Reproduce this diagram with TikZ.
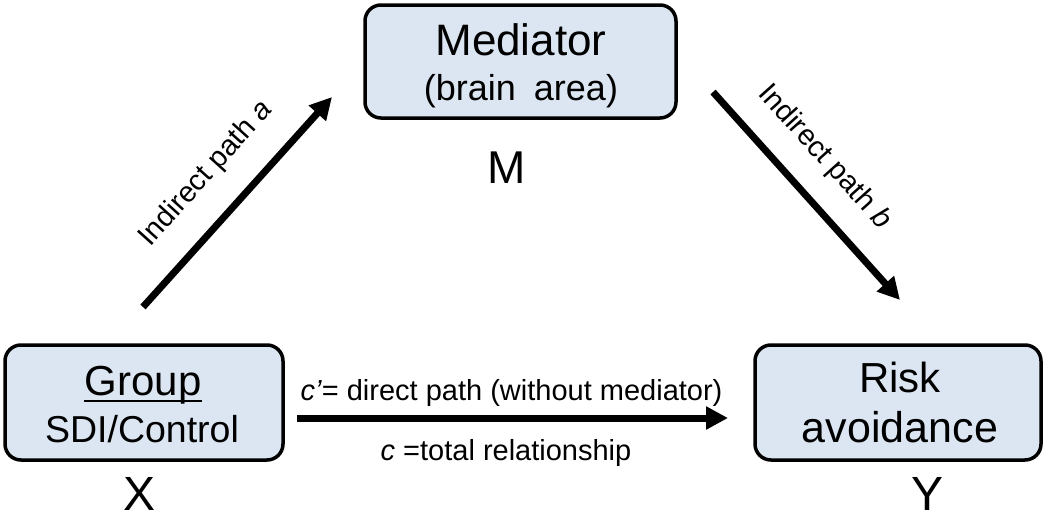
\documentclass[tikz,border=0pt]{standalone}
\usepackage{fontspec}
\setmainfont{Liberation Sans}
\usetikzlibrary{arrows.meta}
\definecolor{boxfill}{HTML}{DCE6F2}
\newcommand\myfs[1]{\fontsize{#1}{#1}\selectfont}
\tikzset{
  box/.style={draw=black, line width=3.5pt, fill=boxfill, rounded corners=16pt, inner sep=0pt},
  txt/.style={inner sep=0pt, anchor=base},
  arr/.style={line width=7pt, -{Triangle[length=22pt,width=22pt]}},
  plabel/.style={inner sep=0pt, font=\myfs{29}},
}
\begin{document}
\begin{tikzpicture}[x=1pt,y=-1pt]
\useasboundingbox (0,0) rectangle (1050,514);
% boxes
\node[box, minimum width=278pt, minimum height=115pt] (g) at (144,402.5) {};
\node[box, minimum width=311pt, minimum height=113pt] (m) at (520.5,61.5) {};
\node[box, minimum width=286pt, minimum height=115pt] (y) at (898,402.5) {};
% box texts
\node[txt, font=\myfs{42}] (gt1) at (143,395) {Group};
\draw[line width=2.5pt] ([yshift=-6pt]gt1.base west) -- ([yshift=-6pt]gt1.base east);
\node[txt, font=\myfs{37.5}] (gt2) at (142,442) {SDI/Control};
\node[txt, font=\myfs{44}] (mt1) at (521,55) {Mediator};
\node[txt, font=\myfs{36}] (mt2) at (521,100) {(brain\hspace{18pt}area)};
\node[txt, font=\myfs{42}] (yt1) at (900,392) {Risk};
\node[txt, font=\myfs{43}] (yt2) at (900,442) {avoidance};
% variable letters
\node[txt, font=\myfs{48}] (xl) at (140,510.5) {X};
\node[txt, font=\myfs{46}] (ml) at (507,183) {M};
\node[txt, font=\myfs{48}] (yl) at (927,510.5) {Y};
% arrow ends
\coordinate (a1) at (143,307); \coordinate (a2) at (332,97);
\coordinate (b1) at (713,92);  \coordinate (b2) at (900,300);
\coordinate (c1) at (297,418); \coordinate (c2) at (728,418);
% arrows
\draw[arr] (a1) -- node[plabel, sloped, above=25pt, pos=0.5] (la) {Indirect path \textit{a}} (a2);
\draw[arr] (b1) -- node[plabel, sloped, above=22pt, pos=0.44] (lb) {Indirect path \textit{b}} (b2);
\draw[arr] (c1) -- (c2);
\node[txt, font=\myfs{29}] (lc1) at (511.5,400) {\textit{c’}= direct path (without mediator)};
\node[txt, font=\myfs{29}] (lc2) at (506,460) {\textit{c} =total relationship};
\end{tikzpicture}
\end{document}
